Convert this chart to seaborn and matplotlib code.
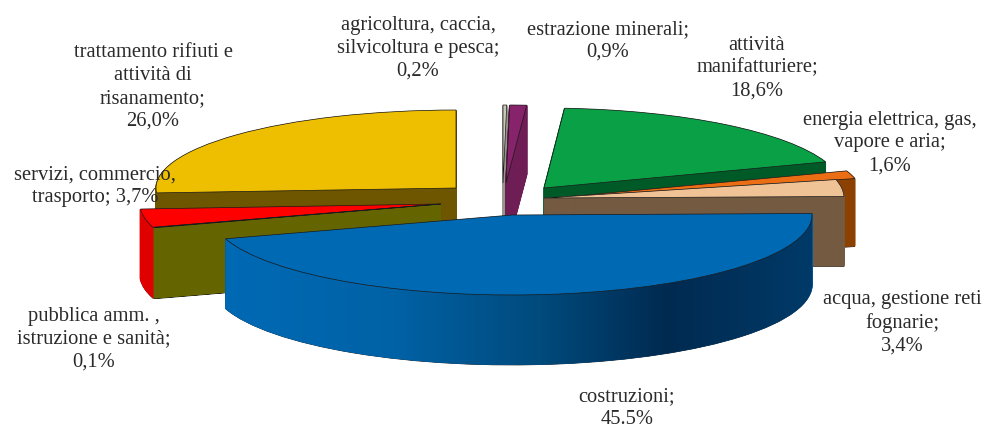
import numpy as np
import matplotlib
matplotlib.use("Agg")
import matplotlib.pyplot as plt
from matplotlib.patches import Wedge, Polygon
from matplotlib.transforms import Affine2D
from matplotlib.colors import LinearSegmentedColormap
import seaborn as sns

#shares by sector, clockwise from 12 o'clock
sectors = ["agricoltura", "estrazione", "manifatturiere", "energia", "acqua",
           "costruzioni", "pubblica", "servizi", "trattamento"]
shares = [0.2, 0.9, 18.6, 1.6, 3.4, 45.5, 0.1, 3.7, 26.0]

labels = ["agricoltura, caccia,\nsilvicoltura e pesca;\n0,2%",
          "estrazione minerali;\n0,9%",
          "attività\nmanifatturiere;\n18,6%",
          "energia elettrica, gas,\nvapore e aria;\n1,6%",
          "acqua, gestione reti\nfognarie;\n3,4%",
          "costruzioni;\n45.5%",
          "pubblica amm. ,\nistruzione e sanità;\n0,1%",
          "servizi, commercio,\ntrasporto; 3,7%",
          "trattamento rifiuti e\nattività di\nrisanamento;\n26,0%"]

sns.set_theme(style="white")
plt.rcParams["font.family"] = ["Liberation Serif", "DejaVu Serif"]

top_colors = sns.color_palette(["#c8c8b9", "#87236a", "#0aa046", "#eb6e14", "#f0c396",
                                "#0069b4", "#646400", "#ff0000", "#eebe00"])
side_colors = sns.color_palette(["#96968c", "#6e1e55", "#005a28", "#8c4100", "#735a41",
                                 "#00559a", "#646400", "#e10000", "#6e5500"])

#layout in pixels: apex x, apex y, radius x, radius y, thickness
layout = {"agricoltura": (503, 184, 298, 78, 70),
          "estrazione": (506, 184, 300, 78, 70),
          "manifatturiere": (544, 189, 298, 80, 70),
          "energia": (565, 198, 298, 80, 68),
          "acqua": (544, 199, 300, 80, 70),
          "costruzioni": (512, 216, 300, 80, 70),
          "pubblica": (441, 205, 300, 80, 71),
          "servizi": (440, 205, 300, 80, 71),
          "trattamento": (456, 189, 300, 78, 70)}
draw_order = ["agricoltura", "estrazione", "manifatturiere", "energia", "acqua",
              "trattamento", "servizi", "pubblica", "costruzioni"]

label_pos = [(418, 48), (608, 41), (757, 68), (890, 143), (902, 323),
             (627, 408), (94, 339), (95, 186), (153, 87)]

fig = plt.figure(figsize=(9.85, 4.27), dpi=100)
ax = fig.add_axes([0, 0, 1, 1])
wedges, _ = ax.pie(shares, startangle=90, counterclock=False, radius=1, colors=top_colors)
ax.set_aspect("auto")
ax.set_xlim(0, 985)
ax.set_ylim(427, 0)
ax.axis("off")

z = 2
for name in draw_order:
    i = sectors.index(name)
    w = wedges[i]
    cx, cy, rx, ry, depth = layout[name]
    #extrude the slice downwards, one pixel per layer
    for k in range(depth, 0, -1):
        tr = Affine2D().scale(rx, -ry).translate(cx, cy + k) + ax.transData
        layer = Wedge((0, 0), 1, w.theta1, w.theta2, transform=tr, facecolor=side_colors[i],
                      edgecolor="#1a1a1a" if k == depth else side_colors[i],
                      lw=0.5 if k == depth else 1.2, zorder=z)
        ax.add_patch(layer)
    z += 1
    if name == "costruzioni":
        #blue rim goes dark to the right
        t = np.radians(np.linspace(w.theta1, w.theta2, 200))
        px = cx + rx * np.cos(t)
        py = cy - ry * np.sin(t)
        rim = np.concatenate([np.column_stack([px, py]),
                              np.column_stack([px, py + depth])[::-1]])
        clip = Polygon(rim, closed=True, transform=ax.transData, facecolor="none", edgecolor="none")
        ax.add_patch(clip)
        cmap = LinearSegmentedColormap.from_list("rim", [(0, "#006ab6"), (0.3, "#0062a6"),
                                                         (0.55, "#004a7c"), (0.76, "#002a50"),
                                                         (1, "#003a68")])
        img = ax.imshow(np.linspace(0, 1, 256)[None, :], cmap=cmap, aspect="auto", zorder=z,
                        extent=[cx - rx, cx + rx, cy + ry + depth + 5, cy - 5])
        img.set_clip_path(clip)
        ax.set_xlim(0, 985)
        ax.set_ylim(427, 0)
        z += 1
    w.set_transform(Affine2D().scale(rx, -ry).translate(cx, cy) + ax.transData)
    w.set_edgecolor("#1a1a1a")
    w.set_linewidth(0.5)
    w.set_zorder(z)
    z += 1

for text, (x, y) in zip(labels, label_pos):
    ax.text(x, y, text, ha="center", va="center", fontsize=14.8, color="#2a2a2a",
            linespacing=1.27, zorder=z)

fig.savefig("out.png", dpi=100)
